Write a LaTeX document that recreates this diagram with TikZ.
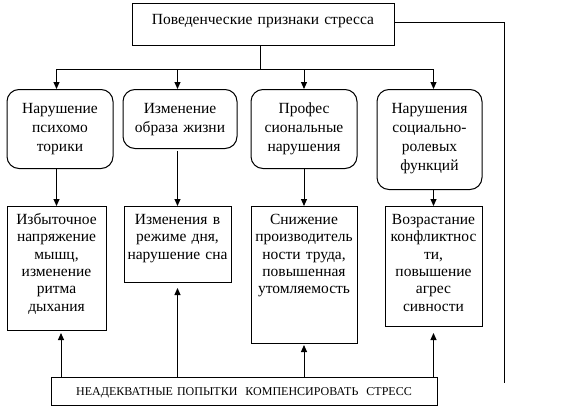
\documentclass[tikz,border=0pt]{standalone}
\usepackage{fontspec}
\setmainfont{Liberation Serif}
\usepackage{tikz}
\usetikzlibrary{arrows.meta}

\tikzset{
  sign/.style={rectangle,rounded corners=12pt,draw=black,line width=1pt,inner sep=0pt,anchor=north,align=center,text height=24pt,font=\fontsize{15.5}{19}\selectfont},
  effect/.style={rectangle,draw=black,line width=1pt,inner sep=0pt,anchor=north,align=center,text height=18pt,font=\fontsize{15.5}{17.3}\selectfont},
  arr/.style={line width=1pt,-{Triangle[length=7pt,width=6pt]}}
}

\begin{document}
\begin{tikzpicture}[x=1pt,y=-1pt]
\useasboundingbox (0,0) rectangle (564,412);
\node at (263,3) [rectangle,draw=black,line width=1pt,inner sep=0pt,anchor=north,text width=262pt,align=center,text height=21pt,text depth=21pt,font=\fontsize{15.5}{19}\selectfont] (Head) {Поведенческие признаки стресса};
\node at (60,89) [sign,text width=106pt,text depth=55pt] (Sign1) {Нарушение\\психомо\\торики};
\node at (180,89) [sign,text width=114pt,text depth=35pt] (Sign2) {Изменение\\образа жизни};
\node at (304,89) [sign,text width=106pt,text depth=55pt] (Sign3) {Профес\\сиональные\\нарушения};
\node at (429.5,89) [sign,text width=105pt,text depth=76pt] (Sign4) {Нарушения\\социально-\\ролевых\\функций};
\node at (56.5,206) [effect,text width=99pt,text depth=106pt] (Effect1) {Избыточное\\напряжение\\мышц,\\изменение\\ритма\\дыхания};
\node at (177.5,206) [effect,text width=107pt,text depth=58pt] (Effect2) {Изменения в\\режиме дня,\\нарушение сна};
\node at (304,206) [effect,text width=106pt,text depth=119pt] (Effect3) {Снижение\\производитель\\ности труда,\\повышенная\\утомляемость};
\node at (433.5,206) [effect,text width=97pt,text depth=102pt] (Effect4) {Возрастание\\конфликтнос\\ти,\\повышение\\агрес\\сивности};
\node at (244,377) [rectangle,draw=black,line width=1pt,inner sep=0pt,anchor=north,text width=386pt,align=center,text height=18pt,text depth=10pt,font=\fontsize{12}{15}\selectfont] (Base) {НЕАДЕКВАТНЫЕ ПОПЫТКИ\ \ КОМПЕНСИРОВАТЬ\ \ СТРЕСС};
\coordinate (Bus) at (260,69);
\coordinate (Tail) at (504,383);
\draw[line width=1pt] (Head.south -| Bus) -- (Bus);
\draw[arr] (Bus) -| (Sign1.north -| Effect1.north);
\draw[arr] (Bus) -| (Sign2.north -| Effect2.north);
\draw[arr] (Bus) -| (Sign3.north -| Effect3.north);
\draw[arr] (Bus) -| (Sign4.north -| Effect4.north);
\draw[arr] (Sign1.south -| Effect1.north) -- (Effect1.north);
\draw[arr] ([yshift=-2pt]Sign2.south -| Effect2.north) -- (Effect2.north);
\draw[arr] (Sign3.south -| Effect3.north) -- (Effect3.north);
\draw[arr] (Sign4.south -| Effect4.north) -- (Effect4.north);
\draw[arr,shorten >=2pt] (Base.north -| 61,0) -- (Effect1.south -| 61,0);
\draw[arr,shorten >=5pt] (Base.north -| Effect2.south) -- (Effect2.south);
\draw[arr,shorten >=1pt] (Base.north -| Effect3.south) -- (Effect3.south);
\draw[arr,shorten >=6pt] (Base.north -| Effect4.south) -- (Effect4.south);
\draw[line width=1pt] ([yshift=2pt]Head.east) -| (Tail);
\end{tikzpicture}
\end{document}
